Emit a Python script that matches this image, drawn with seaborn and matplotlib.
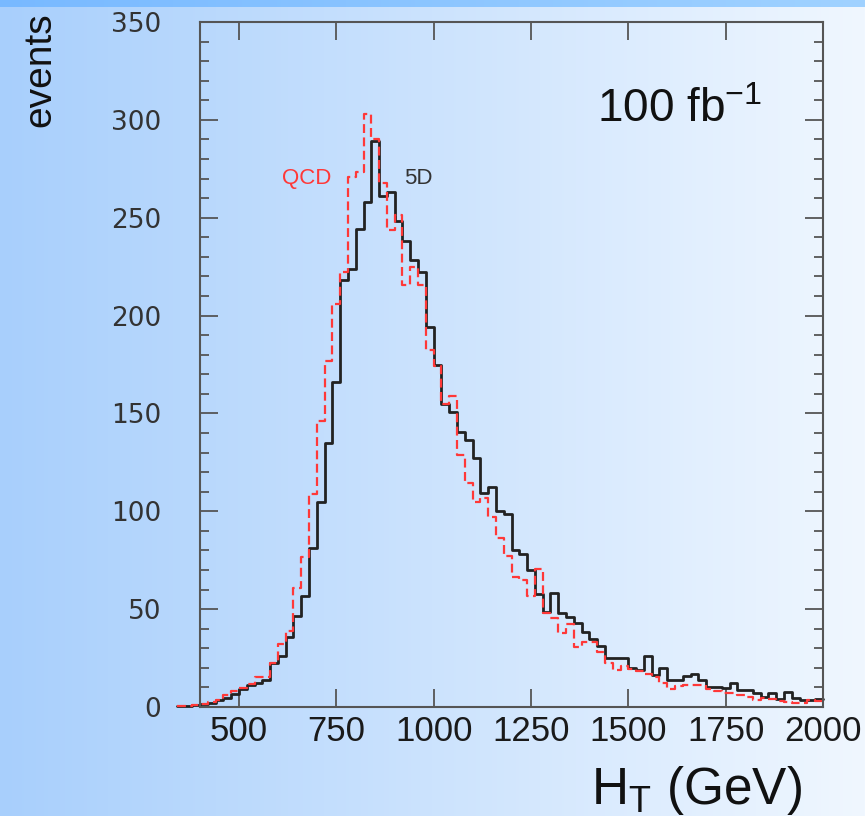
import numpy as np
import pandas as pd
import matplotlib
matplotlib.use("Agg")
import matplotlib.pyplot as plt
import seaborn as sns
from matplotlib.ticker import MultipleLocator

# ---- data (events per 20 GeV bin, bins from 340 to 2000 GeV) ----
bin_start = 340
bin_width = 20
bin_stop = 2000

qcd_events = [0.3, 0.7, 1.0, 1.5, 2.5, 3.5, 6, 8, 9.5, 12,
              15.3, 15.3, 22.7, 32, 39, 60.6, 76.8, 109, 146, 177,
              206, 222.4, 270.6, 273.5, 303, 290, 267.6, 243.7, 251.4, 215.6,
              225, 215.6, 182.5, 174, 155, 159, 128.8, 114.3, 105, 107,
              97.2, 86.2, 76.9, 66.3, 65, 56.5, 70.3, 48, 45.3, 37.7,
              42.5, 30.8, 33, 33, 28, 22.5, 18.9, 20.8, 19.5, 18.5,
              17, 15.5, 12.5, 9.3, 10.6, 11, 11, 11, 9, 8,
              7.2, 7, 6, 5.3, 3.8, 4.5, 4.2, 3.3, 2.7, 2.2,
              2.0, 3.4, 3.2]

fived_events = [0.3, 0.6, 1.0, 1.4, 2.2, 3.4, 4.8, 6.5, 9, 11,
                12.4, 14, 22.7, 26, 35.8, 46.5, 56.7, 81, 105, 135,
                166, 218, 224, 244, 258, 289, 261, 263, 248.5, 238,
                228.5, 222.5, 194, 175, 155, 150.5, 140.7, 136.4, 127, 109.5,
                112.3, 100.4, 98.6, 80, 78.2, 70, 57.5, 48.7, 58, 47.9,
                46.1, 42.8, 38.5, 35, 31.2, 24.9, 24.9, 24.9, 19.8, 18.9,
                26.3, 16.4, 19.9, 13.8, 13.9, 15.8, 17, 14, 10.2, 10,
                9.6, 12.3, 8.7, 8.5, 7, 5.3, 7.2, 4.2, 7.5, 4.4,
                3.4, 3.4, 4]

x_ticks = [500, 750, 1000, 1250, 1500, 1750, 2000]
y_ticks = [0, 50, 100, 150, 200, 250, 300, 350]

edges = [float(e) for e in np.arange(bin_start, bin_stop + 1, bin_width)]
centers = [e + bin_width / 2 for e in edges[:-1]]
df = pd.DataFrame({"HT": centers, "QCD": qcd_events, "FiveD": fived_events})

sns.set_style("ticks")
plt.rcParams["font.family"] = ["Liberation Sans", "DejaVu Sans"]
plt.rcParams["mathtext.fontset"] = "custom"
plt.rcParams["mathtext.rm"] = "Liberation Sans"

W, H = 865, 816
fig = plt.figure(figsize=(W / 100, H / 100), dpi=100)

# background gradient
bg = fig.add_axes([0, 0, 1, 1], zorder=-10)
t = np.linspace(0, 1, W)[None, :, None]
left_c = np.array([168, 207, 252]) / 255
right_c = np.array([240, 247, 255]) / 255
img = np.repeat(left_c * (1 - t) + right_c * t, H, axis=0)
strip_l = np.array([120, 185, 255]) / 255
strip_r = np.array([160, 210, 255]) / 255
img[:7, :, :] = (strip_l * (1 - t) + strip_r * t)[0]
bg.imshow(img, aspect="auto", extent=[0, 1, 0, 1], origin="upper")
bg.axis("off")

ax = fig.add_axes([200 / W, 109 / H, 623 / W, 685 / H])
ax.patch.set_alpha(0)

n0 = len(ax.lines)
sns.histplot(data=df, x="HT", weights="FiveD", bins=edges, element="step",
             fill=False, color="#222222", linewidth=2.0, ax=ax)
black_lines = ax.lines[n0:]
n1 = len(ax.lines)
sns.histplot(data=df, x="HT", weights="QCD", bins=edges, element="step",
             fill=False, color="#ff3838", linewidth=1.6, ax=ax)
red_lines = ax.lines[n1:]
for ln in black_lines:
    ln.set_clip_on(False)
for ln in red_lines:
    ln.set_clip_on(False)
    ln.set_dashes([4.0, 2.0])

ax.set_xlim(400, 2000)
ax.set_ylim(0, 350)
ax.set_xticks(x_ticks)
ax.set_yticks(y_ticks)
ax.yaxis.set_minor_locator(MultipleLocator(10))
ax.set_xlabel("")
ax.set_ylabel("")

for s in ax.spines.values():
    s.set_visible(True)
    s.set_color("#555555")
    s.set_linewidth(1.5)

ax.tick_params(which="both", direction="in", top=True, right=True,
               color="#555555", width=1.3)
ax.tick_params(which="major", length=13)
ax.tick_params(which="minor", length=6.5)
ax.tick_params(axis="x", labelsize=25, pad=6, labelcolor="#1a1a1a")
ax.tick_params(axis="y", labelsize=19, pad=28, labelcolor="#333333")
for lbl in ax.get_yticklabels():
    lbl.set_family("DejaVu Sans")

ax.text(1420, 299, r"100 fb$^{\mathregular{-1}}$", fontsize=33,
        color="#111111", va="baseline", ha="left")
ax.text(611, 267, "QCD", fontsize=16, color="#ff3838", va="baseline", ha="left")
ax.text(925, 267, "5D", fontsize=16, color="#333333", va="baseline", ha="left")

fig.text(40 / W, 1 - 70 / H, "events", rotation=90, fontsize=28,
         color="#111111", ha="center", va="center")
fig.text(802 / W, (H - 804) / H, r"H$_{\mathregular{T}}$ (GeV)", fontsize=37,
         color="#111111", ha="right", va="baseline")

fig.savefig("out.png", dpi=100)
